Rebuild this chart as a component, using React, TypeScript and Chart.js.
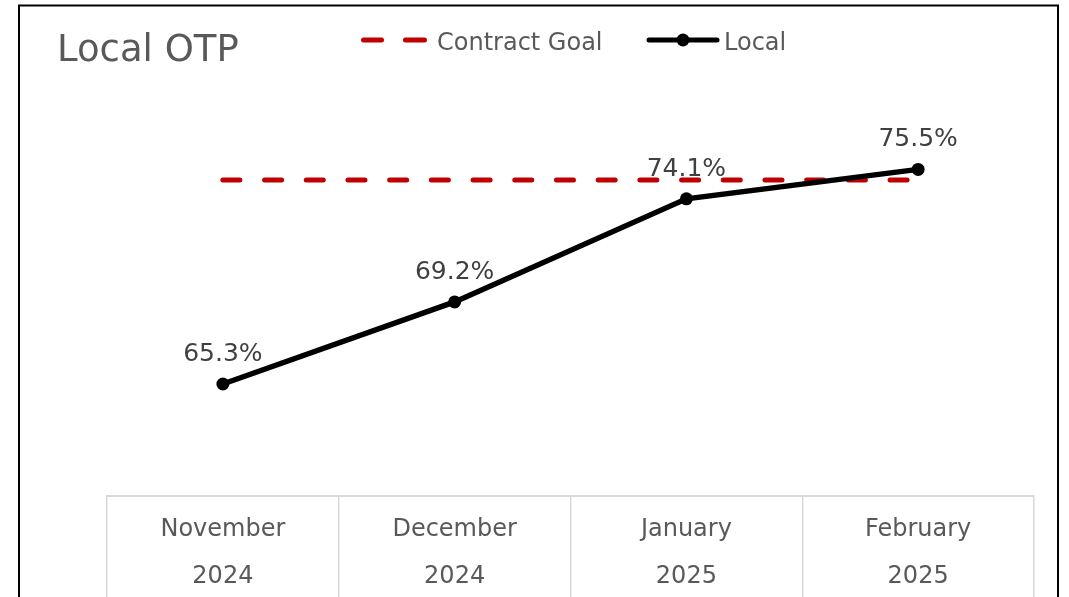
import React, { useEffect, useRef } from 'react';
import { Chart, registerables } from 'chart.js';

Chart.register(...registerables);

// ---- data ----
const categories: string[][] = [
  ['November', '2024'],
  ['December', '2024'],
  ['January', '2025'],
  ['February', '2025'],
];
const localValues: number[] = [65.3, 69.2, 74.1, 75.5];
const goalValues: number[] = [75, 75, 75, 75];
const yMin = 60;
const yMax = 80;
const titleText = 'Local OTP';
const goalName = 'Contract Goal';
const localName = 'Local';

const FONT = '"DejaVu Sans", Verdana, sans-serif';
const GRAY = '#595959';
const RED = '#C00000';

const decorPlugin = {
  id: 'decor',
  beforeDraw(chart: any) {
    const ctx = chart.ctx;
    ctx.save();
    ctx.fillStyle = '#ffffff';
    ctx.fillRect(0, 0, chart.width, chart.height);
    ctx.restore();
  },
  afterDatasetsDraw(chart: any) {
    const ctx = chart.ctx;
    const meta = chart.getDatasetMeta(1);
    ctx.save();
    ctx.font = `25px ${FONT}`;
    ctx.fillStyle = '#404040';
    ctx.textAlign = 'center';
    ctx.textBaseline = 'alphabetic';
    meta.data.forEach((pt: any, i: number) => {
      const v = chart.data.datasets[1].data[i] as number;
      ctx.fillText(v.toFixed(1) + '%', pt.x, pt.y - 23);
    });
    ctx.restore();
  },
  afterDraw(chart: any) {
    const ctx = chart.ctx;
    ctx.save();
    // frame
    ctx.strokeStyle = '#000000';
    ctx.lineWidth = 2;
    ctx.strokeRect(19, 5.5, 1039, 800);
    // title
    ctx.font = `37px ${FONT}`;
    ctx.fillStyle = GRAY;
    ctx.textAlign = 'left';
    ctx.textBaseline = 'alphabetic';
    ctx.fillText(titleText, 57, 61);
    // legend: goal
    ctx.lineCap = 'round';
    ctx.lineWidth = 5;
    ctx.strokeStyle = RED;
    ctx.beginPath();
    ctx.moveTo(363.5, 40);
    ctx.lineTo(381.5, 40);
    ctx.moveTo(405.5, 40);
    ctx.lineTo(424.5, 40);
    ctx.stroke();
    ctx.font = `24px ${FONT}`;
    ctx.fillStyle = GRAY;
    ctx.fillText(goalName, 437, 50);
    // legend: local
    ctx.strokeStyle = '#000000';
    ctx.beginPath();
    ctx.moveTo(649, 40);
    ctx.lineTo(717, 40);
    ctx.stroke();
    ctx.fillStyle = '#000000';
    ctx.beginPath();
    ctx.arc(683, 40, 6.5, 0, Math.PI * 2);
    ctx.fill();
    ctx.fillStyle = GRAY;
    ctx.fillText(localName, 724, 50);
    ctx.restore();
  },
};

export default function App() {
  const ref = useRef<HTMLCanvasElement | null>(null);

  useEffect(() => {
    if (!ref.current) return;
    const chart = new Chart(ref.current, {
      type: 'line',
      data: {
        labels: categories,
        datasets: [
          {
            label: goalName,
            data: goalValues,
            borderColor: RED,
            borderWidth: 5,
            borderDash: [17, 24.7],
            borderCapStyle: 'round',
            pointRadius: 0,
            fill: false,
            order: 1,
          },
          {
            label: localName,
            data: localValues,
            borderColor: '#000000',
            backgroundColor: '#000000',
            borderWidth: 5.5,
            pointRadius: 6.5,
            pointBorderWidth: 0,
            pointBackgroundColor: '#000000',
            fill: false,
            order: 0,
          },
        ],
      },
      options: {
        animation: false,
        responsive: false,
        devicePixelRatio: 1,
        layout: { padding: { left: 107, right: 35, top: 74.7, bottom: 0 } },
        plugins: {
          legend: { display: false },
          title: { display: false },
          tooltip: { enabled: false },
        },
        scales: {
          x: {
            offset: true,
            grid: {
              offset: true,
              drawOnChartArea: false,
              drawTicks: true,
              tickLength: 110,
              color: '#d9d9d9',
              lineWidth: 1.5,
            },
            border: { display: true, color: '#d9d9d9', width: 2 },
            ticks: {
              padding: -99.5,
              color: GRAY,
              font: { family: FONT, size: 24, lineHeight: 47 / 24 },
              maxRotation: 0,
              autoSkip: false,
            },
            afterFit: (scale: any) => {
              scale.height = 101.5;
            },
          },
          y: {
            display: false,
            min: yMin,
            max: yMax,
          },
        },
      },
      plugins: [decorPlugin],
    } as any);
    return () => chart.destroy();
  }, []);

  return (
    <div style={{ position: 'fixed', left: 0, top: 0, width: 1069, height: 597, overflow: 'hidden' }}>
      <canvas ref={ref} width={1069} height={597} style={{ display: 'block' }} />
    </div>
  );
}
